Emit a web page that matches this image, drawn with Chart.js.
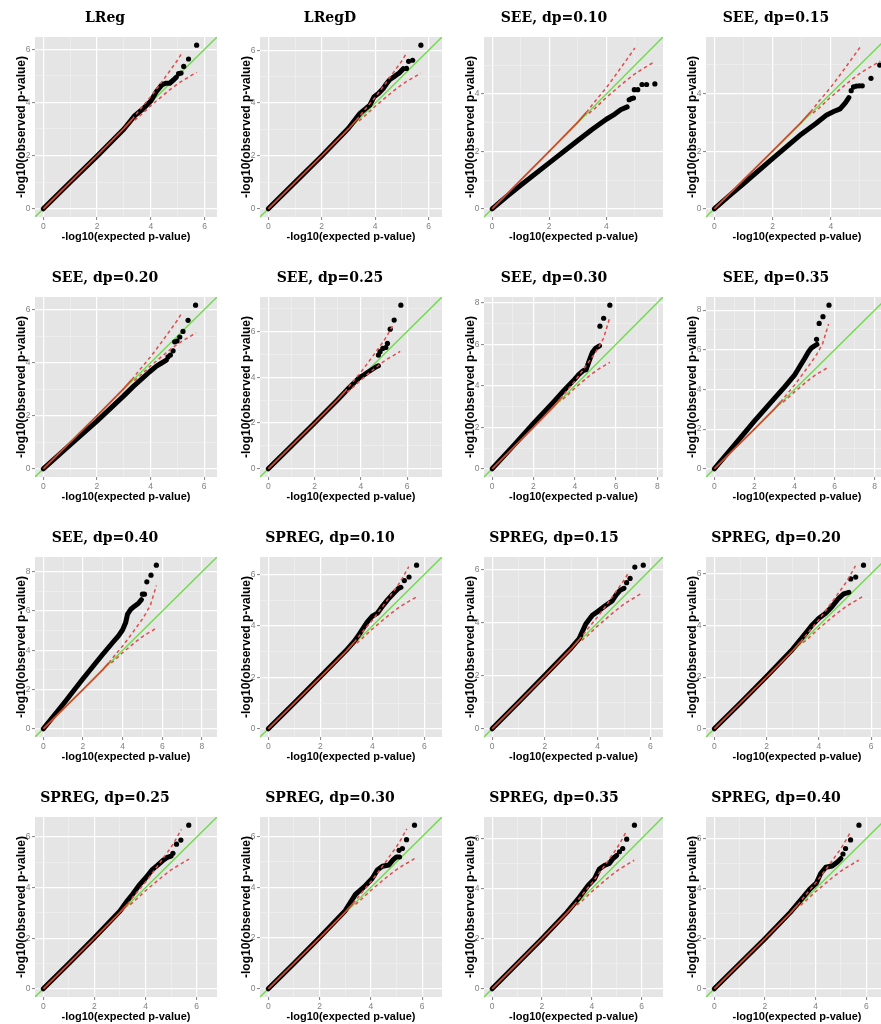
<!DOCTYPE html>
<html>
<head>
<meta charset="utf-8">
<script src="https://cdn.jsdelivr.net/npm/chart.js@4.4.1/dist/chart.umd.min.js"></script>
<style>
  html, body { margin: 0; padding: 0; background: #ffffff; width: 881px; height: 1024px; overflow: hidden; }
  canvas { position: absolute; }
</style>
</head>
<body>
<script>
// ---- panel titles (row by row) ----
const panelTitles = [
  'LReg', 'LRegD', 'SEE, dp=0.10', 'SEE, dp=0.15',
  'SEE, dp=0.20', 'SEE, dp=0.25', 'SEE, dp=0.30', 'SEE, dp=0.35',
  'SEE, dp=0.40', 'SPREG, dp=0.10', 'SPREG, dp=0.15', 'SPREG, dp=0.20',
  'SPREG, dp=0.25', 'SPREG, dp=0.30', 'SPREG, dp=0.35', 'SPREG, dp=0.40'
];

// labelled (major) tick values; odd values only get a minor grid line
const majorTicks = [0, 2, 4, 6, 8];

// 95% confidence band of the expected -log10(p) order statistics
const ciExpected = [0, 1, 2, 3, 3.3, 3.6, 4.0, 4.4, 4.7, 5.0, 5.15, 5.4, 5.7];
const ciUpper    = [0, 1, 2, 3.02, 3.36, 3.74, 4.22, 4.76, 5.18, 5.6, 5.85, 6.3, 7.3];
const ciLower    = [0, 1, 2, 2.98, 3.25, 3.5, 3.88, 4.22, 4.47, 4.7, 4.8, 4.95, 5.13];
// below this expected value the two band edges coincide into one solid line
const CI_MERGED_UNTIL = 3.3;

// ---- observed vs expected -log10(p): dense body + separated top hits ----
const lregBody = [[0,0],[1,1],[2,1.98],[3,3.0],[3.4,3.5],[3.7,3.75],[4.0,4.05],[4.2,4.4],[4.4,4.65],[4.55,4.72],[4.7,4.72],[4.85,4.85],[4.95,4.95]];
const lregTop  = [[5.03,5.08],[5.12,5.1],[5.22,5.35],[5.4,5.63],[5.7,6.15]];

const lregdBody = [[0,0],[1,1],[2,2],[3,3.05],[3.43,3.61],[3.8,3.92],[3.96,4.24],[4.12,4.36],[4.3,4.55],[4.43,4.74],[4.55,4.89],[4.74,5.02],[4.9,5.14],[5.05,5.3]];
const lregdTop  = [[5.17,5.31],[5.25,5.58],[5.4,5.62],[5.71,6.19]];

const see10Body = [[0,0],[0.5,0.42],[1,0.82],[2,1.6],[3,2.38],[3.5,2.76],[4,3.12],[4.3,3.3],[4.5,3.45],[4.73,3.55]];
const see10Top  = [[4.8,3.8],[4.88,3.84],[4.95,3.86],[4.98,4.15],[5.1,4.15],[5.25,4.33],[5.41,4.33],[5.7,4.35]];

const see15Body = [[0,0],[0.5,0.44],[1,0.87],[2,1.74],[3,2.6],[3.5,2.97],[3.86,3.26],[4.1,3.38],[4.32,3.47],[4.5,3.68],[4.62,3.86]];
const see15Top  = [[4.7,4.1],[4.78,4.23],[4.88,4.26],[4.98,4.27],[5.08,4.27],[5.38,4.53],[5.68,4.99]];

const see20Body = [[0,0],[1,0.9],[2,1.8],[3,2.75],[3.35,3.1],[3.97,3.66],[4.22,3.87],[4.4,3.98],[4.59,4.1]];
const see20Top  = [[4.65,4.22],[4.74,4.29],[4.84,4.45],[4.9,4.79],[4.99,4.82],[5.09,4.97],[5.21,5.18],[5.4,5.6],[5.68,6.17]];

const see25Body = [[0,0],[1,1],[2,2],[3,3.02],[3.5,3.55],[3.9,3.95],[4.1,4.08],[4.3,4.22],[4.5,4.35],[4.65,4.45],[4.76,4.5]];
const see25Top  = [[4.76,4.97],[4.83,5.12],[4.95,5.26],[5.08,5.3],[5.15,5.48],[5.27,6.1],[5.44,6.5],[5.73,7.15]];

const see30Body = [[0,0],[1,1.08],[2,2.18],[3,3.25],[3.5,3.8],[4,4.32],[4.2,4.55],[4.4,4.72],[4.55,4.78],[4.7,5.2],[4.85,5.6],[5.0,5.8],[5.2,5.92]];
const see30Top  = [[5.22,6.87],[5.4,7.25],[5.7,7.88]];

const see35Body = [[0,0],[1,1.2],[2,2.4],[3,3.55],[3.5,4.12],[4,4.72],[4.3,5.22],[4.5,5.55],[4.7,5.9],[4.85,6.1],[5.0,6.2],[5.12,6.27]];
const see35Top  = [[5.1,6.53],[5.23,7.33],[5.42,7.67],[5.72,8.25]];

const see40Body = [[0,0],[1,1.25],[2,2.55],[3,3.8],[3.5,4.4],[3.8,4.75],[4.0,5.05],[4.15,5.4],[4.25,5.85],[4.4,6.08],[4.6,6.25],[4.8,6.4],[4.95,6.58]];
const see40Top  = [[5.0,6.86],[5.1,6.86],[5.22,7.49],[5.43,7.83],[5.7,8.34]];

const spreg10Body = [[0,0],[1,1],[2,2.02],[3,3.05],[3.3,3.4],[3.5,3.68],[3.8,4.15],[4.0,4.38],[4.2,4.5],[4.4,4.78],[4.6,5.03],[4.8,5.25],[5.0,5.45],[5.1,5.5]];
const spreg10Top  = [[5.23,5.76],[5.41,5.9],[5.7,6.36]];

const spreg15Body = [[0,0],[1,1],[2,2.02],[3,3.05],[3.3,3.4],[3.55,3.95],[3.8,4.28],[4.0,4.42],[4.3,4.65],[4.55,4.82],[4.7,5.05],[4.85,5.22],[5.0,5.3]];
const spreg15Top  = [[5.1,5.51],[5.23,5.67],[5.41,6.1],[5.73,6.17]];

const spreg20Body = [[0,0],[1,1],[2,2.02],[3,3.08],[3.5,3.7],[3.75,4.02],[4.0,4.28],[4.25,4.46],[4.5,4.72],[4.75,5.04],[4.95,5.22],[5.15,5.28]];
const spreg20Top  = [[5.22,5.8],[5.41,5.87],[5.71,6.33]];

const spreg25Body = [[0,0],[1,1],[2,2.02],[3,3.08],[3.3,3.5],[3.5,3.75],[3.75,4.1],[4.0,4.38],[4.25,4.7],[4.45,4.87],[4.65,5.05],[4.85,5.2],[5.0,5.25]];
const spreg25Top  = [[5.07,5.36],[5.21,5.72],[5.38,5.88],[5.69,6.47]];

const spreg30Body = [[0,0],[1,1],[2,2.02],[3,3.08],[3.4,3.72],[3.8,4.08],[4.05,4.35],[4.25,4.68],[4.45,4.83],[4.7,4.88],[4.85,5.07],[5.0,5.2],[5.12,5.2]];
const spreg30Top  = [[5.1,5.46],[5.23,5.53],[5.39,5.88],[5.7,6.45]];

const spreg35Body = [[0,0],[1,1],[2,2],[3,3.05],[3.5,3.65],[3.85,4.12],[4.1,4.38],[4.3,4.78],[4.5,4.92],[4.7,5.0],[4.85,5.2],[5.0,5.32]];
const spreg35Top  = [[5.11,5.47],[5.24,5.6],[5.4,5.97],[5.71,6.53]];

const spreg40Body = [[0,0],[1,1],[2,2],[3,3.05],[3.5,3.65],[3.77,3.98],[4.03,4.22],[4.2,4.6],[4.4,4.85],[4.65,4.9],[4.85,5.05],[5.0,5.2]];
const spreg40Top  = [[5.08,5.38],[5.18,5.6],[5.38,5.94],[5.71,6.53]];

const panelBodies = [lregBody, lregdBody, see10Body, see15Body, see20Body, see25Body, see30Body, see35Body,
                     see40Body, spreg10Body, spreg15Body, spreg20Body, spreg25Body, spreg30Body, spreg35Body, spreg40Body];
const panelTops   = [lregTop, lregdTop, see10Top, see15Top, see20Top, see25Top, see30Top, see35Top,
                     see40Top, spreg10Top, spreg15Top, spreg20Top, spreg25Top, spreg30Top, spreg35Top, spreg40Top];

// ---- page layout of the 4 x 4 grid (plot-panel edges in page pixels) ----
const colPanelLeft  = [35, 260, 484, 706];
const colPanelWidth = [182, 182, 179, 182];
const rowPanelTop   = [37, 297, 557, 817];
const PANEL_H = 180;
const TITLE_BLOCK = 37;     // space above the panel for the title
const XAXIS_BLOCK = 27;     // tick labels + axis title below the panel
const RIGHT_GAP = 4;
const TITLE_CENTER = 70;    // title centre, measured from the panel's left edge
const YTITLE_GAP = 13.3;    // y-axis title centre, measured left of the panel

const toPoints = arr => arr.map(p => ({x: p[0], y: p[1]}));

// grey ggplot-style panel background
const panelBackground = {
  id: 'panelBackground',
  beforeDraw(chart) {
    const {ctx, chartArea: a} = chart;
    ctx.save();
    ctx.fillStyle = '#e5e5e5';
    ctx.fillRect(a.left, a.top, a.right - a.left, a.bottom - a.top);
    ctx.restore();
  }
};

function axisOptions(lo, hi, isX, yAxisWidth) {
  const isMajor = v => majorTicks.includes(v);
  const opts = {
    type: 'linear',
    min: lo,
    max: hi,
    border: { display: false },
    grid: {
      color: c => (c.tick && isMajor(c.tick.value)) ? '#ffffff' : '#f2f2f2',
      lineWidth: c => (c.tick && isMajor(c.tick.value)) ? 1.2 : 0.6,
      tickColor: c => (c.tick && isMajor(c.tick.value)) ? '#7f7f7f' : 'rgba(0,0,0,0)',
      tickLength: 3,
      tickWidth: 1
    },
    ticks: {
      stepSize: 1,
      includeBounds: false,
      autoSkip: false,
      maxRotation: 0,
      padding: 1.5,
      color: '#808080',
      font: { family: 'Liberation Sans', size: 8.5 },
      callback: v => isMajor(v) ? String(v) : ''
    },
    title: {
      display: true,
      color: '#000000',
      font: { family: 'Liberation Sans', size: 11, weight: 'bold', lineHeight: 1.2 }
    }
  };
  if (isX) {
    opts.position = 'bottom';
    opts.title.text = '-log10(expected p-value)';
    opts.title.padding = { top: 0, bottom: 0 };
    opts.afterFit = s => { s.height = XAXIS_BLOCK; };
  } else {
    opts.position = 'left';
    opts.title.text = '-log10(observed p-value)';
    opts.title.font = { family: 'Liberation Sans', size: 12, weight: 'bold', lineHeight: 1.2 };
    opts.title.padding = { top: yAxisWidth - YTITLE_GAP - 7.2, bottom: 0 };
    opts.afterFit = s => { s.width = yAxisWidth; };
  }
  return opts;
}

function makePanel(i) {
  const row = Math.floor(i / 4), col = i % 4;
  const body = panelBodies[i], top = panelTops[i];
  const all = body.concat(top);
  const limit = Math.max(...all.map(p => Math.max(p[0], p[1])));
  const lo = -0.05 * limit, hi = 1.05 * limit;

  const pw = colPanelWidth[col];
  const extra = pw + RIGHT_GAP - 35 - 2 * TITLE_CENTER;
  const yAxisWidth = 35 + extra;
  const W = Math.round(yAxisWidth + pw + RIGHT_GAP);
  const H = TITLE_BLOCK + PANEL_H + XAXIS_BLOCK;

  const canvas = document.createElement('canvas');
  canvas.width = W;
  canvas.height = H;
  canvas.style.left = (colPanelLeft[col] - yAxisWidth) + 'px';
  canvas.style.top = (rowPanelTop[row] - TITLE_BLOCK) + 'px';
  canvas.style.width = W + 'px';
  canvas.style.height = H + 'px';
  document.body.appendChild(canvas);

  // band points beyond the panel's data range are dropped, not clipped
  const band = edge => ciExpected.map((x, k) => ({x, y: edge[k]})).filter(p => p.y <= limit);
  const upper = band(ciUpper), lower = band(ciLower);
  const merged = upper.filter(p => p.x <= CI_MERGED_UNTIL);
  const upperSplit = upper.filter(p => p.x >= CI_MERGED_UNTIL);
  const lowerSplit = lower.filter(p => p.x >= CI_MERGED_UNTIL);

  new Chart(canvas, {
    type: 'scatter',
    data: {
      datasets: [
        { label: 'upper 95%', data: upperSplit, showLine: true, pointRadius: 0, borderColor: '#e04c4c',
          borderWidth: 1.5, borderDash: [3.5, 3] },
        { label: 'lower 95%', data: lowerSplit, showLine: true, pointRadius: 0, borderColor: '#e04c4c',
          borderWidth: 1.5, borderDash: [3.5, 3], borderDashOffset: 3.25 },
        { label: '95% band', data: merged, showLine: true, pointRadius: 0, borderColor: '#cf4b30',
          borderWidth: 1.8 },
        { label: 'top hits', data: toPoints(top), showLine: false, pointRadius: 2.6,
          pointBackgroundColor: '#000000', pointBorderWidth: 0 },
        { label: 'observed', data: toPoints(body), showLine: true, pointRadius: 0, borderColor: '#000000',
          borderWidth: 5, borderCapStyle: 'round', borderJoinStyle: 'round' },
        { label: 'y = x', data: [{x: lo, y: lo}, {x: hi, y: hi}], showLine: true, pointRadius: 0,
          borderColor: '#6ddc48', borderWidth: 1.4, clip: 0 }
      ]
    },
    options: {
      responsive: false,
      animation: false,
      events: [],
      devicePixelRatio: 1,
      layout: { padding: 0 },
      plugins: {
        legend: { display: false },
        tooltip: { enabled: false },
        title: {
          display: true,
          text: panelTitles[i],
          color: '#000000',
          font: { family: 'DejaVu Serif', size: 14, weight: 'bold', lineHeight: 1.2 },
          padding: { top: 9.5, bottom: 10.7 }
        }
      },
      scales: {
        x: axisOptions(lo, hi, true, yAxisWidth),
        y: axisOptions(lo, hi, false, yAxisWidth)
      }
    },
    plugins: [panelBackground]
  });
}

for (let i = 0; i < 16; i++) makePanel(i);
</script>
</body>
</html>
